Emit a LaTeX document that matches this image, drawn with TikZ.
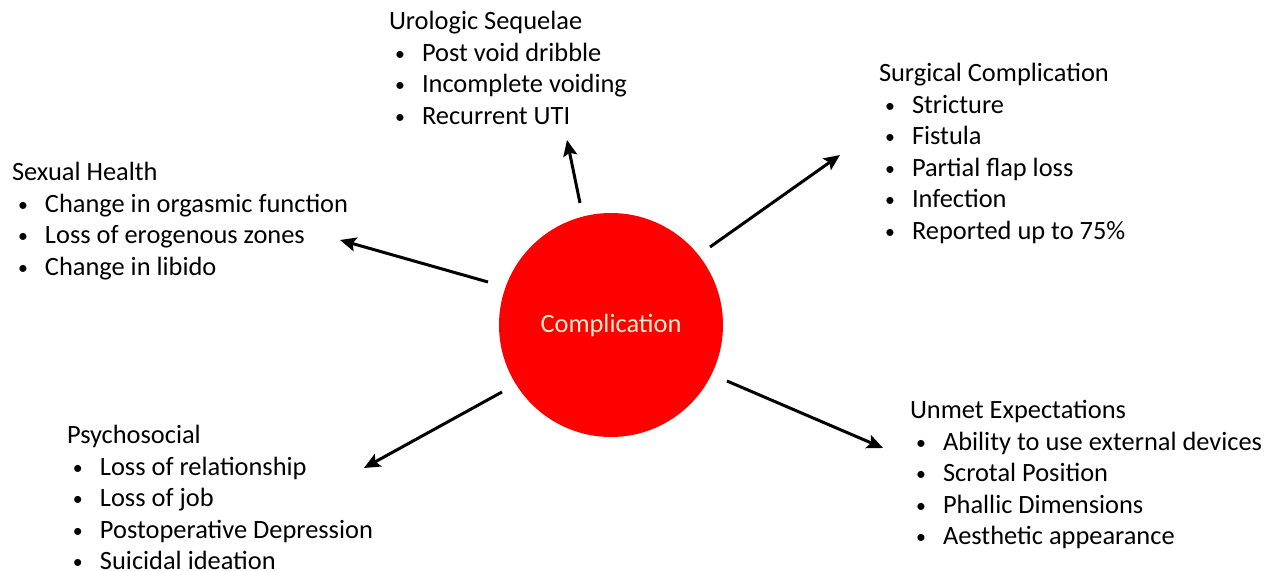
\documentclass[tikz,border=0pt]{standalone}
\usepackage{fontspec}
\setmainfont{Carlito}
\usetikzlibrary{arrows.meta}
\definecolor{cream}{RGB}{250,236,205}
\newcommand{\itm}[1]{\hspace*{3pt}\makebox[13.5pt][l]{\raisebox{0.6pt}{\scalebox{0.75}{\textbullet}}}#1}
\tikzset{
  blk/.style={anchor=base west, inner sep=0pt, outer sep=0pt,
    font=\fontsize{13.2}{15.75}\selectfont},
  arr/.style={line width=1.5pt, -{Stealth[length=8pt,width=7pt,inset=1.5pt]}},
}
\newcommand{\blocktext}[1]{\begin{tabular}[t]{@{}l@{}}#1\end{tabular}}
\begin{document}
\begin{tikzpicture}[x=0.5pt,y=-0.5pt]
\useasboundingbox (0,0) rectangle (1270,571);
\node[circle, fill=red, minimum size=112pt, inner sep=0pt,
  font=\fontsize{13.2}{16}\selectfont, text=cream] (c) at (611,325) {Complication};

\node[blk] (uro) at (389,30) {\blocktext{Urologic Sequelae\\ \itm{Post void dribble}\\ \itm{Incomplete voiding}\\ \itm{Recurrent UTI}}};
\node[blk] (surg) at (879,82) {\blocktext{Surgical Complication\\ \itm{Stricture}\\ \itm{Fistula}\\ \itm{Partial flap loss}\\ \itm{Infection}\\ \itm{Reported up to 75\%}}};
\node[blk] (sex) at (12,181) {\blocktext{Sexual Health\\ \itm{Change in orgasmic function}\\ \itm{Loss of erogenous zones}\\ \itm{Change in libido}}};
\node[blk] (psy) at (67,444) {\blocktext{Psychosocial\\ \itm{Loss of relationship}\\ \itm{Loss of job}\\ \itm{Postoperative Depression}\\ \itm{Suicidal ideation}}};
\node[blk] (unm) at (910,419) {\blocktext{Unmet Expectations\\ \itm{Ability to use external devices}\\ \itm{Scrotal Position}\\ \itm{Phallic Dimensions}\\ \itm{Aesthetic appearance}}};

\coordinate (s1) at (580,203); \coordinate (t1) at (567,140);
\coordinate (s2) at (710,247); \coordinate (t2) at (840,155);
\coordinate (s3) at (488,282); \coordinate (t3) at (340,240);
\coordinate (s4) at (502,392); \coordinate (t4) at (364,468);
\coordinate (s5) at (727,381); \coordinate (t5) at (883,448);

\draw[arr] (s1) -- (t1);
\draw[arr] (s2) -- (t2);
\draw[arr] (s3) -- (t3);
\draw[arr] (s4) -- (t4);
\draw[arr] (s5) -- (t5);
\end{tikzpicture}
\end{document}
